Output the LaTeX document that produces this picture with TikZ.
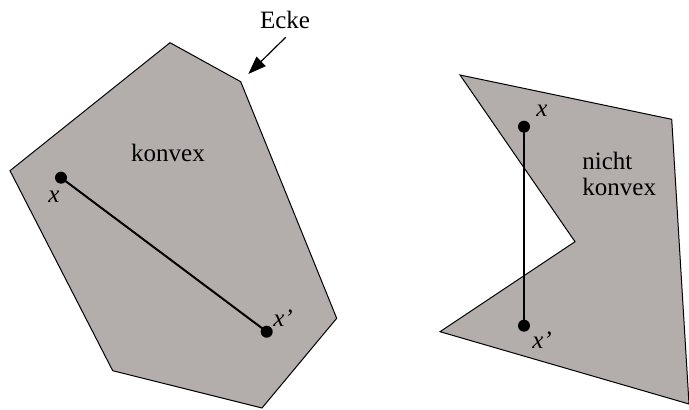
\documentclass[tikz,border=0pt]{standalone}
\usepackage{fontspec}
\setmainfont{Liberation Serif}
\usetikzlibrary{arrows.meta}
\definecolor{polyfill}{RGB}{179,173,171}
\tikzset{
  poly/.style={draw=black, line width=0.5pt, fill=polyfill, line join=miter},
  seg/.style={draw=black, line width=1pt},
  pt/.style={circle, fill=black, inner sep=0pt, minimum size=6pt},
  lbl/.style={font=\fontsize{12.5}{15}\selectfont, inner sep=0pt},
}
\begin{document}
\begin{tikzpicture}[x=0.5pt,y=-0.5pt]
\useasboundingbox (0,0) rectangle (689,410);
% left convex polygon
\coordinate (a1) at (170,42.7);
\coordinate (a2) at (240.7,81.7);
\coordinate (a3) at (336.7,318.3);
\coordinate (a4) at (262,408);
\coordinate (a5) at (112.7,370.7);
\coordinate (a6) at (10,170.7);
\draw[poly] (a1) -- (a2) -- (a3) -- (a4) -- (a5) -- (a6) -- cycle;
% right non-convex polygon
\coordinate (b1) at (460,75);
\coordinate (b2) at (671.7,119.3);
\coordinate (b3) at (689,404);
\coordinate (b4) at (440,331.7);
\coordinate (b5) at (575,241.7);
\draw[poly] (b1) -- (b2) -- (b3) -- (b4) -- (b5) -- cycle;
% points and segments
\node[pt] (x1) at (61,177.7) {};
\node[pt] (x1p) at (266.7,331.7) {};
\draw[seg] (x1.center) -- (x1p.center);
\node[pt] (x2) at (524,126.7) {};
\node[pt] (x2p) at (524,325.7) {};
\draw[seg] (x2.center) -- (x2p.center);
% labels
\node[lbl] (kon) at (168,152.7) {konvex};
\node[lbl] (lx1) at (54,197) {\textit{x}};
\node[lbl] (lx1p) at (283,318) {\textit{x'}};
\node[lbl] (lx2) at (542,111) {\textit{x}};
\node[lbl] (lx2p) at (542,340) {\textit{x'}};
\node[lbl, align=left, anchor=west] (nk) at (582,174) {nicht\\[-2pt]konvex};
\node[lbl] (ecke) at (285,20) {Ecke};
\coordinate (ecketip) at (248.3,74);
\coordinate (eckestart) at (285.7,37.3);
\draw[line width=0.6pt, -{Triangle[length=9pt,width=6.5pt]}] (eckestart) -- (ecketip);
\end{tikzpicture}
\end{document}
